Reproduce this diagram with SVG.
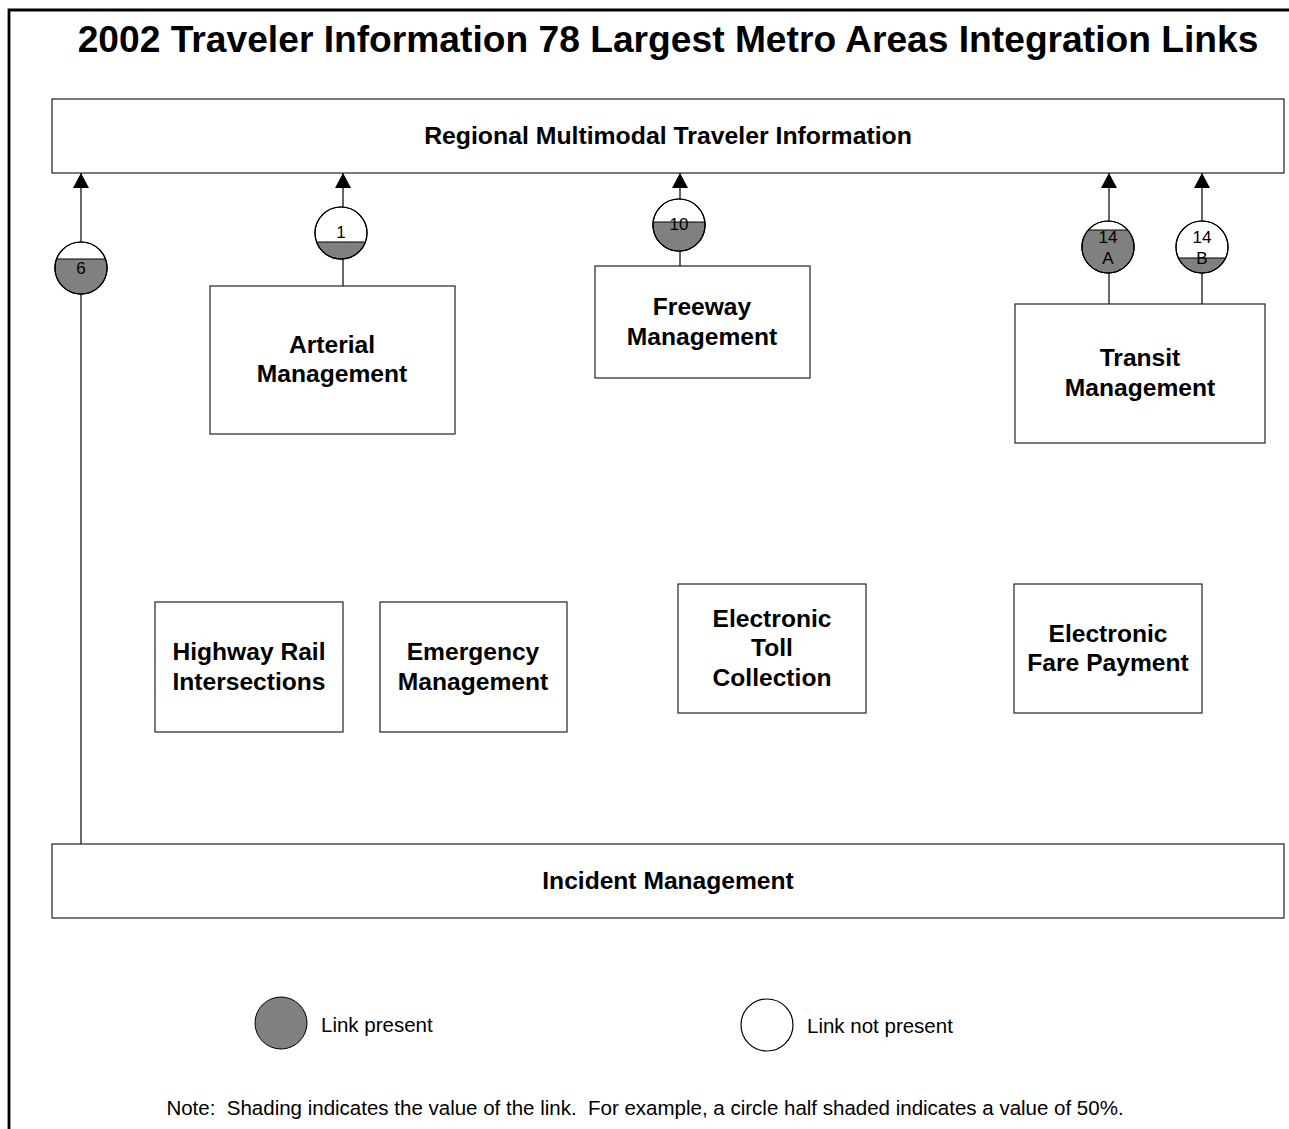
<svg xmlns="http://www.w3.org/2000/svg" width="1289" height="1129" viewBox="0 0 1289 1129">
<defs>
<marker id="arr" markerWidth="16" markerHeight="15" refX="8" refY="0" orient="0" markerUnits="userSpaceOnUse" viewBox="0 0 16 15">
<path d="M0,15 L8,0 L16,15 Z" fill="#000"/>
</marker>
<style>
.box{fill:#fff;stroke:#222;stroke-width:1.2}
.t{font-family:"Liberation Sans",Arial,sans-serif;font-weight:bold;font-size:24.6px;fill:#000;text-anchor:middle}
.n{font-family:"Liberation Sans",Arial,sans-serif;font-size:17px;fill:#000;text-anchor:middle}
.l{font-family:"Liberation Sans",Arial,sans-serif;font-size:20.5px;fill:#000;white-space:pre}
.c{fill:#fff;stroke:#000;stroke-width:1.2}
.s{fill:#808080;stroke:#000;stroke-width:1}
.ln{stroke:#000;stroke-width:1.2;fill:none}
</style>
</defs>
<rect width="1289" height="1129" fill="#fff"/>
<path d="M9,1129 L9,10 L1289,10" fill="none" stroke="#000" stroke-width="2.8"/>
<text x="668" y="52" class="t" style="font-size:37.2px">2002 Traveler Information 78 Largest Metro Areas Integration Links</text>

<g id="connectors">
<line class="ln" x1="81" y1="243" x2="81" y2="173" marker-end="url(#arr)"/>
<line class="ln" x1="81" y1="294" x2="81" y2="844"/>
<line class="ln" x1="343" y1="208" x2="343" y2="173" marker-end="url(#arr)"/>
<line class="ln" x1="343" y1="259" x2="343" y2="286"/>
<line class="ln" x1="680" y1="199" x2="680" y2="173" marker-end="url(#arr)"/>
<line class="ln" x1="680" y1="251" x2="680" y2="266"/>
<line class="ln" x1="1109" y1="221" x2="1109" y2="173" marker-end="url(#arr)"/>
<line class="ln" x1="1109" y1="273" x2="1109" y2="304"/>
<line class="ln" x1="1202" y1="221" x2="1202" y2="173" marker-end="url(#arr)"/>
<line class="ln" x1="1202" y1="273" x2="1202" y2="304"/>
</g>

<g id="regional">
<rect class="box" x="52" y="99" width="1232" height="74"/>
<text x="668" y="144" class="t" style="font-size:24.8px">Regional Multimodal Traveler Information</text>
</g>
<g id="arterial">
<rect class="box" x="210" y="286" width="245" height="148"/>
<text x="332" y="353" class="t">Arterial</text>
<text x="332" y="382" class="t">Management</text>
</g>
<g id="freeway">
<rect class="box" x="595" y="266" width="215" height="112"/>
<text x="702" y="315" class="t">Freeway</text>
<text x="702" y="345" class="t">Management</text>
</g>
<g id="transit">
<rect class="box" x="1015" y="304" width="250" height="139"/>
<text x="1140" y="366" class="t">Transit</text>
<text x="1140" y="396" class="t">Management</text>
</g>
<g id="highway-rail">
<rect class="box" x="155" y="602" width="188" height="130"/>
<text x="249" y="660" class="t">Highway Rail</text>
<text x="249" y="690" class="t">Intersections</text>
</g>
<g id="emergency">
<rect class="box" x="380" y="602" width="187" height="130"/>
<text x="473" y="660" class="t">Emergency</text>
<text x="473" y="690" class="t">Management</text>
</g>
<g id="toll">
<rect class="box" x="678" y="584" width="188" height="129"/>
<text x="772" y="627" class="t">Electronic</text>
<text x="772" y="656" class="t">Toll</text>
<text x="772" y="686" class="t">Collection</text>
</g>
<g id="fare">
<rect class="box" x="1014" y="584" width="188" height="129"/>
<text x="1108" y="642" class="t">Electronic</text>
<text x="1108" y="671" class="t">Fare Payment</text>
</g>
<g id="incident">
<rect class="box" x="52" y="844" width="1232" height="74"/>
<text x="668" y="889" class="t">Incident Management</text>
</g>

<g id="link-6">
<circle class="c" cx="81" cy="268" r="26"/>
<path class="s" d="M56.6,259 L105.4,259 A26,26 0 1 1 56.6,259 Z"/>
<circle cx="81" cy="268" r="26" fill="none" stroke="#000" stroke-width="1.2"/>
<text x="81" y="274" class="n">6</text>
</g>
<g id="link-1">
<circle class="c" cx="341" cy="233" r="26"/>
<path class="s" d="M316.6,242 L365.4,242 A26,26 0 0 1 316.6,242 Z"/>
<circle cx="341" cy="233" r="26" fill="none" stroke="#000" stroke-width="1.2"/>
<text x="341" y="238" class="n">1</text>
</g>
<g id="link-10">
<circle class="c" cx="679" cy="225" r="26"/>
<path class="s" d="M653.2,222 L704.8,222 A26,26 0 1 1 653.2,222 Z"/>
<circle cx="679" cy="225" r="26" fill="none" stroke="#000" stroke-width="1.2"/>
<text x="679" y="230" class="n">10</text>
</g>
<g id="link-14a">
<circle class="c" cx="1108" cy="247" r="26"/>
<path class="s" d="M1088.3,230 L1127.7,230 A26,26 0 1 1 1088.3,230 Z"/>
<circle cx="1108" cy="247" r="26" fill="none" stroke="#000" stroke-width="1.2"/>
<text x="1108" y="243" class="n">14</text>
<text x="1108" y="264" class="n">A</text>
</g>
<g id="link-14b">
<circle class="c" cx="1202" cy="247" r="26"/>
<path class="s" d="M1178.4,258 L1225.6,258 A26,26 0 0 1 1178.4,258 Z"/>
<circle cx="1202" cy="247" r="26" fill="none" stroke="#000" stroke-width="1.2"/>
<text x="1202" y="243" class="n">14</text>
<text x="1202" y="264" class="n">B</text>
</g>

<g id="legend">
<circle class="s" cx="281" cy="1023" r="26" stroke-width="1.2"/>
<text x="321" y="1032" class="l">Link present</text>
<circle class="c" cx="767" cy="1025" r="26"/>
<text x="807" y="1033" class="l">Link not present</text>
<text x="645" y="1115" class="l" xml:space="preserve" style="text-anchor:middle">Note:  Shading indicates the value of the link.  For example, a circle half shaded indicates a value of 50%.</text>
</g>
</svg>
